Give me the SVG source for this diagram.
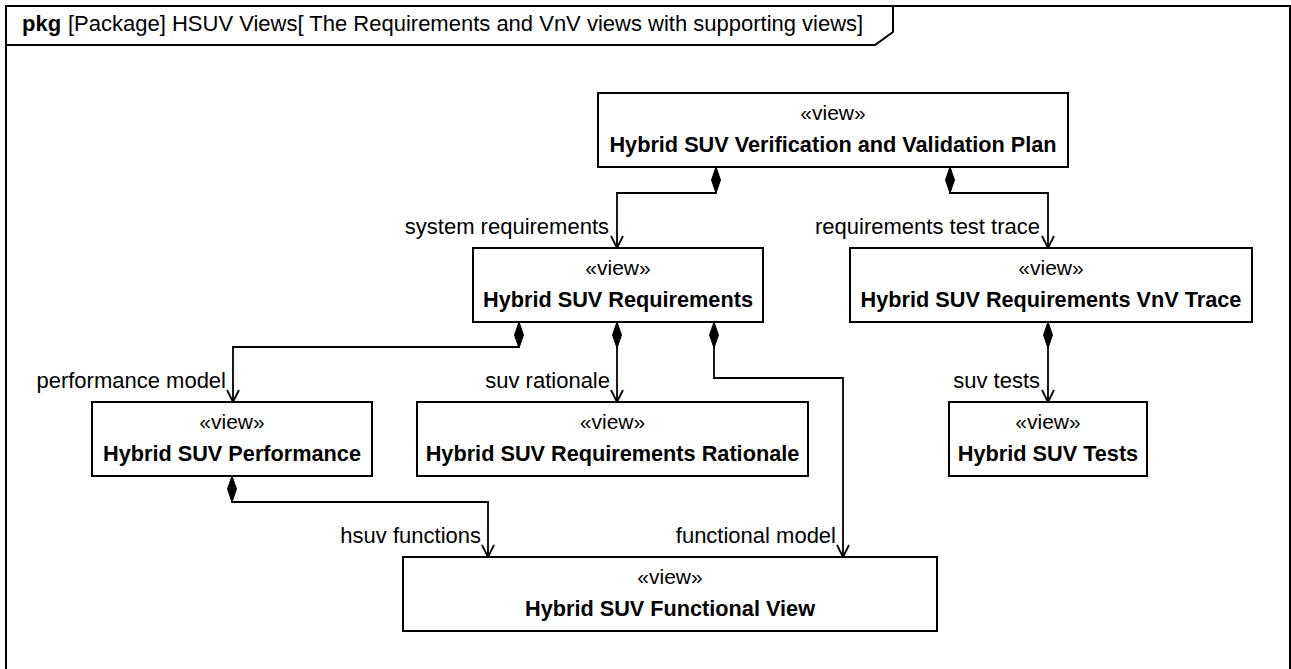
<svg xmlns="http://www.w3.org/2000/svg" width="1291" height="669" viewBox="0 0 1291 669">
  <style>
    .frame { fill: #ffffff; stroke: #000000; stroke-width: 2; }
    .box { fill: #ffffff; stroke: #000000; stroke-width: 2; }
    .st { font-family: "Liberation Sans", Arial, sans-serif; font-size: 21px; text-anchor: middle; fill: #000; }
    .nm { font-family: "Liberation Sans", Arial, sans-serif; font-size: 21.7px; font-weight: bold; text-anchor: middle; fill: #000; }
    .lbl { font-family: "Liberation Sans", Arial, sans-serif; font-size: 22px; text-anchor: end; fill: #000; }
    .hdr { font-family: "Liberation Sans", Arial, sans-serif; font-size: 22px; fill: #000; }
    .conn { fill: none; stroke: #000000; stroke-width: 1.8; marker-start: url(#diamond); marker-end: url(#arrow); }
  </style>
  <defs>
    <marker id="diamond" markerUnits="userSpaceOnUse" markerWidth="28" markerHeight="12" refX="0" refY="5" orient="auto" overflow="visible">
      <path d="M0,5 L13,0.5 L26,5 L13,9.5 Z" fill="#000" stroke="#000" stroke-width="1"/>
    </marker>
    <marker id="arrow" markerUnits="userSpaceOnUse" markerWidth="14" markerHeight="14" refX="12" refY="6" orient="auto" overflow="visible">
      <path d="M0,0 L12,6 L0,12" fill="none" stroke="#000" stroke-width="1.8"/>
    </marker>
  </defs>

  <g id="frame">
    <rect class="frame" x="6" y="6" width="1284" height="700"/>
    <path d="M6,45 L875,45 L893,32 L893,6" fill="none" stroke="#000" stroke-width="2"/>
    <text class="hdr" x="22" y="31"><tspan font-weight="bold">pkg</tspan></text>
    <text class="hdr" x="68" y="31">[Package] HSUV Views[ The Requirements and VnV views with supporting views]</text>
  </g>

  <g id="connectors">
    <path class="conn" d="M716,167 L716,193 L617,193 L617,248"/>
    <path class="conn" d="M950,167 L950,193 L1048,193 L1048,248"/>
    <path class="conn" d="M519,322 L519,347 L233,347 L233,402"/>
    <path class="conn" d="M617,322 L617,402"/>
    <path class="conn" d="M714,322 L714,378 L843,378 L843,557"/>
    <path class="conn" d="M1048,322 L1048,402"/>
    <path class="conn" d="M232,476 L232,502 L488,502 L488,557"/>
    <text class="lbl" x="609" y="234">system requirements</text>
    <text class="lbl" x="1040" y="234">requirements test trace</text>
    <text class="lbl" x="226" y="388">performance model</text>
    <text class="lbl" x="610" y="388">suv rationale</text>
    <text class="lbl" x="1040" y="388">suv tests</text>
    <text class="lbl" x="481" y="543">hsuv functions</text>
    <text class="lbl" x="836" y="543">functional model</text>
  </g>

  <g id="node-vvplan">
    <rect class="box" x="598" y="93" width="470" height="74"/>
    <text class="st" x="833" y="120">«view»</text>
    <text class="nm" x="833" y="152">Hybrid SUV Verification and Validation Plan</text>
  </g>
  <g id="node-requirements">
    <rect class="box" x="473" y="248" width="290" height="74"/>
    <text class="st" x="618" y="275">«view»</text>
    <text class="nm" x="618" y="307">Hybrid SUV Requirements</text>
  </g>
  <g id="node-vnvtrace">
    <rect class="box" x="850" y="248" width="402" height="74"/>
    <text class="st" x="1051" y="275">«view»</text>
    <text class="nm" x="1051" y="307">Hybrid SUV Requirements VnV Trace</text>
  </g>
  <g id="node-performance">
    <rect class="box" x="92" y="402" width="280" height="74"/>
    <text class="st" x="232" y="429">«view»</text>
    <text class="nm" x="232" y="461">Hybrid SUV Performance</text>
  </g>
  <g id="node-rationale">
    <rect class="box" x="417" y="402" width="391" height="74"/>
    <text class="st" x="612.5" y="429">«view»</text>
    <text class="nm" x="612.5" y="461">Hybrid SUV Requirements Rationale</text>
  </g>
  <g id="node-tests">
    <rect class="box" x="949" y="402" width="198" height="74"/>
    <text class="st" x="1048" y="429">«view»</text>
    <text class="nm" x="1048" y="461">Hybrid SUV Tests</text>
  </g>
  <g id="node-functional">
    <rect class="box" x="403" y="557" width="534" height="74"/>
    <text class="st" x="670" y="584">«view»</text>
    <text class="nm" x="670" y="616">Hybrid SUV Functional View</text>
  </g>
</svg>
